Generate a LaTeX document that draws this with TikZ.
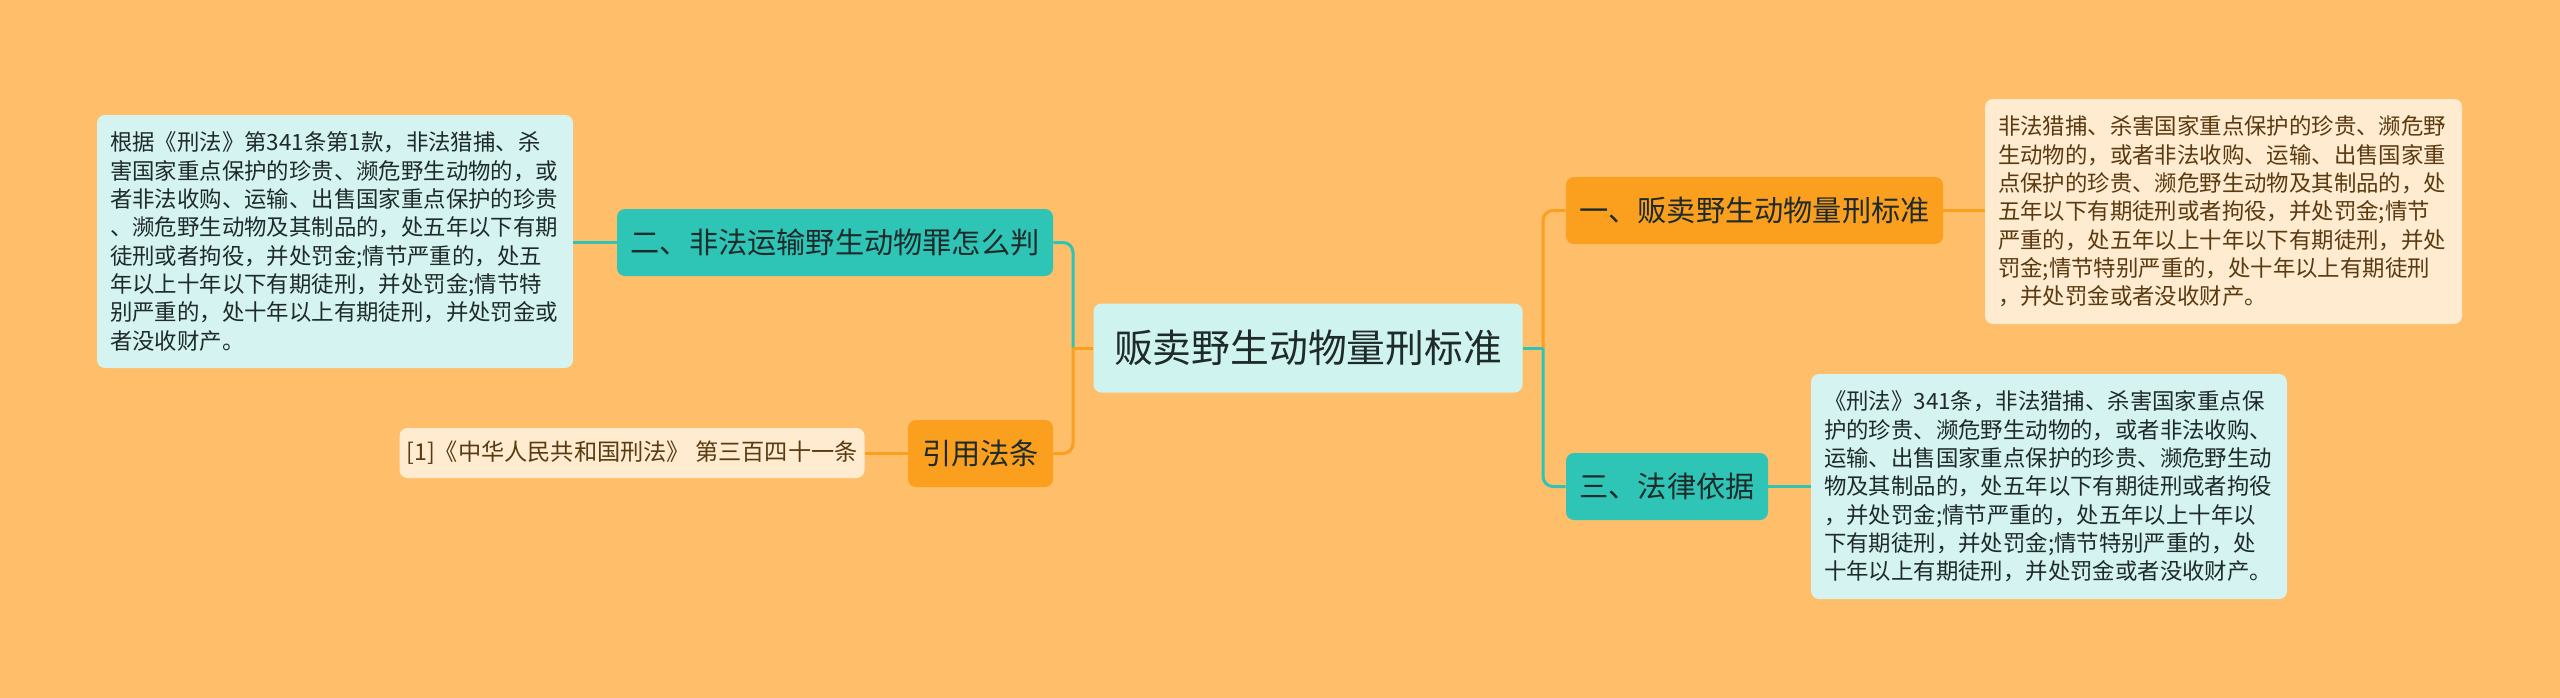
\documentclass[tikz,border=0pt]{standalone}
\usepackage{fontspec}
\setmainfont{Noto Sans CJK SC}

\definecolor{bgcol}{HTML}{FEBE6A}
\definecolor{tealcol}{HTML}{2EC4B6}
\definecolor{orangecol}{HTML}{FA9F1E}
\definecolor{rootcol}{HTML}{CFF3EF}
\definecolor{tealleafcol}{HTML}{D5F3F0}
\definecolor{orangeleafcol}{HTML}{FFEBD0}
\definecolor{darktext}{HTML}{1E2B2A}
\definecolor{browntext}{HTML}{5A3A10}

\begin{document}
\begin{tikzpicture}[x=0.5pt,y=-0.5pt,
  box/.style={rounded corners=4pt, inner sep=0pt},
  rootbox/.style={box, fill=rootcol, text=darktext, minimum width=214.5pt, minimum height=44.5pt, font=\fontsize{19.4}{23}\selectfont},
  tealbox/.style={box, fill=tealcol, text=darktext, minimum height=33.5pt, font=\fontsize{14.6}{17}\selectfont},
  orangebox/.style={box, fill=orangecol, text=darktext, minimum height=33.5pt, font=\fontsize{14.6}{17}\selectfont},
  tealnote/.style={box, fill=tealleafcol, text=darktext, inner xsep=6.5pt, align=left, font=\fontsize{11.2}{14.15}\selectfont},
  orangenote/.style={box, fill=orangeleafcol, text=browntext, inner xsep=6.5pt, align=left, font=\fontsize{11.2}{14.15}\selectfont},
  tealln/.style={draw=tealcol, line width=1.5pt, rounded corners=5pt},
  orangeln/.style={draw=orangecol, line width=1.5pt, rounded corners=5pt},
]
\useasboundingbox (0,0) rectangle (2560,697);
\fill[bgcol] (-10,-10) rectangle (2570,707);

% centre
\node[rootbox] (root) at (1308,348) {贩卖野生动物量刑标准};
\coordinate (lj) at (1073,348);
\coordinate (rj) at (1543,348);

% left side
\node[tealbox, minimum width=218pt] (judge) at (835,242.5) {二、非法运输野生动物罪怎么判};
\node[orangebox, minimum width=72.5pt] (cite) at (980.5,453.5) {引用法条};
\node[tealnote, text width=225pt, minimum height=126.5pt] (judgenote) at (335,241.5)
  {根据《刑法》第341条第1款，非法猎捕、杀\\
   害国家重点保护的珍贵、濒危野生动物的，或\\
   者非法收购、运输、出售国家重点保护的珍贵\\
   、濒危野生动物及其制品的，处五年以下有期\\
   徒刑或者拘役，并处罚金;情节严重的，处五\\
   年以上十年以下有期徒刑，并处罚金;情节特\\
   别严重的，处十年以上有期徒刑，并处罚金或\\
   者没收财产。};
\node[box, fill=orangeleafcol, text=browntext, minimum width=232.5pt, minimum height=25pt, font=\fontsize{11.6}{14}\selectfont] (citenote) at (632,453)
  {[1]《中华人民共和国刑法》 第三百四十一条};

% right side
\node[orangebox, minimum width=188.5pt] (std) at (1754.5,210.5) {一、贩卖野生动物量刑标准};
\node[tealbox, minimum width=101pt] (law) at (1667,486.5) {三、法律依据};
\node[orangenote, text width=225.5pt, minimum height=112.5pt] (stdnote) at (2223.5,211.5)
  {非法猎捕、杀害国家重点保护的珍贵、濒危野\\
   生动物的，或者非法收购、运输、出售国家重\\
   点保护的珍贵、濒危野生动物及其制品的，处\\
   五年以下有期徒刑或者拘役，并处罚金;情节\\
   严重的，处五年以上十年以下有期徒刑，并处\\
   罚金;情节特别严重的，处十年以上有期徒刑\\
   ，并处罚金或者没收财产。};
\node[tealnote, text width=225pt, minimum height=112.5pt] (lawnote) at (2049,486.5)
  {《刑法》341条，非法猎捕、杀害国家重点保\\
   护的珍贵、濒危野生动物的，或者非法收购、\\
   运输、出售国家重点保护的珍贵、濒危野生动\\
   物及其制品的，处五年以下有期徒刑或者拘役\\
   ，并处罚金;情节严重的，处五年以上十年以\\
   下有期徒刑，并处罚金;情节特别严重的，处\\
   十年以上有期徒刑，并处罚金或者没收财产。};

% branches
\draw[tealln] (lj) |- (judge.east);
\draw[orangeln] (lj) |- (cite.east);
\draw[orangeln] (root.west) -- (lj);
\draw[orangeln] (rj) |- (std.west);
\draw[tealln] (rj) |- (law.west);
\draw[tealln] (root.east) -- (rj);

% leaves
\draw[tealln] (judge.west) -- (judge.west -| judgenote.east);
\draw[orangeln] (cite.west) -- (cite.west -| citenote.east);
\draw[orangeln] (std.east) -- (std.east -| stdnote.west);
\draw[tealln] (law.east) -- (law.east -| lawnote.west);
\end{tikzpicture}
\end{document}
